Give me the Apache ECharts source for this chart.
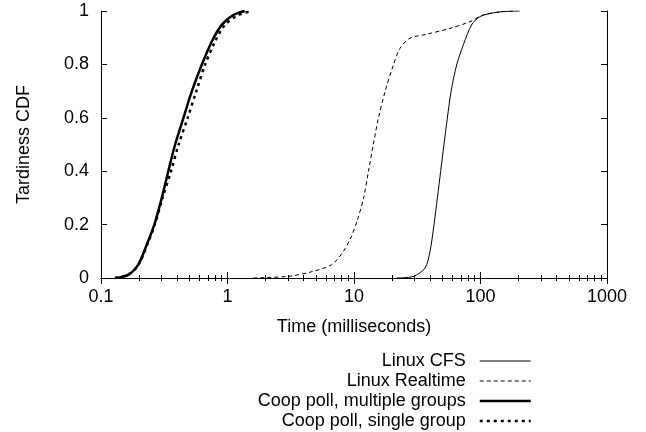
<!DOCTYPE html>
<html>
<head>
<meta charset="utf-8">
<script src="https://cdn.jsdelivr.net/npm/echarts@6/dist/echarts.min.js"></script>
<style>html,body{margin:0;padding:0;background:#fff}#c{width:646px;height:432px}</style>
</head>
<body>
<div id="c"></div>
<script>
// ---- data ----
const seriesNames = ['Linux CFS', 'Linux Realtime', 'Coop poll, multiple groups', 'Coop poll, single group'];
const xTickLabels = ['0.1', '1', '10', '100', '1000'];
const yTickLabels = ['0', '0.2', '0.4', '0.6', '0.8', '1'];

const cfsTime = [21.7, 29.4, 36.4, 39.9, 42.9, 45.6, 48.4, 51.4, 54.7, 58.5, 64.8, 73.1, 85.1, 99, 134, 193];
const cfsCdf  = [0, 0.006, 0.037, 0.1, 0.2, 0.299, 0.399, 0.499, 0.599, 0.698, 0.798, 0.873, 0.948, 0.979, 0.995, 1.0];

const rtTime = [1.6, 3.0, 4.5, 6.66, 8.25, 9.42, 10.6, 11.9, 13.0, 14.2, 15.6, 17.6, 20.5, 23.1, 27.7, 37.6, 57.4, 82.6, 105, 151, 205];
const rtCdf  = [0, 0.006, 0.022, 0.05, 0.1, 0.15, 0.215, 0.299, 0.399, 0.499, 0.599, 0.698, 0.798, 0.860, 0.898, 0.913, 0.935, 0.960, 0.985, 0.998, 1.0];

const multiTime = [0.129, 0.164, 0.197, 0.230, 0.264, 0.302, 0.340, 0.385, 0.448, 0.521, 0.625, 0.750, 0.900, 1.11, 1.37];
const multiCdf  = [0, 0.012, 0.05, 0.125, 0.2, 0.299, 0.399, 0.499, 0.599, 0.698, 0.798, 0.885, 0.948, 0.985, 1.0];

const singleTime = [0.129, 0.164, 0.198, 0.232, 0.266, 0.306, 0.357, 0.410, 0.484, 0.565, 0.664, 0.796, 0.955, 1.22, 1.55];
const singleCdf  = [0, 0.012, 0.05, 0.125, 0.2, 0.299, 0.399, 0.499, 0.599, 0.698, 0.798, 0.885, 0.948, 0.985, 1.0];

// ---- chart ----
const zip = (xs, ys) => xs.map((x, i) => [x, ys[i]]);
const FONT = '"Liberation Sans", Arial, Helvetica, sans-serif';
const FS = 18;
const chart = echarts.init(document.getElementById('c'), null, {renderer: 'canvas'});

const xBase = {
  type: 'log', logBase: 10, min: 0.1, max: 1000,
  axisLine: {show: true, lineStyle: {color: '#000', width: 1}},
  axisTick: {show: true, inside: true, length: 6, lineStyle: {color: '#000'}},
  minorTick: {show: true, splitNumber: 9, length: 3, lineStyle: {color: '#000'}},
  splitLine: {show: false}, minorSplitLine: {show: false}
};
const yBase = {
  type: 'value', min: 0, max: 1, interval: 0.2,
  axisLine: {show: true, lineStyle: {color: '#000', width: 1}},
  axisTick: {show: true, inside: true, length: 6, lineStyle: {color: '#000'}},
  splitLine: {show: false}
};

const option = {
  backgroundColor: '#fff',
  animation: false,
  textStyle: {fontFamily: FONT},
  grid: {left: 101, right: 39, top: 11, bottom: 154, containLabel: false},
  xAxis: [
    Object.assign({}, xBase, {
      position: 'bottom',
      name: 'Time (milliseconds)', nameLocation: 'middle', nameGap: 40,
      nameTextStyle: {fontSize: FS, color: '#000', fontFamily: FONT},
      axisLabel: {show: true, margin: 10, fontSize: FS, color: '#000', fontFamily: FONT,
        formatter: v => { const i = Math.round(Math.log10(v)) + 1; return xTickLabels[i] !== undefined ? xTickLabels[i] : ''; }}
    }),
    Object.assign({}, xBase, {position: 'top', axisLabel: {show: false}})
  ],
  yAxis: [
    Object.assign({}, yBase, {
      position: 'left',
      name: 'Tardiness CDF', nameLocation: 'middle', nameGap: 68, nameRotate: 90,
      nameTextStyle: {fontSize: FS, color: '#000', fontFamily: FONT},
      axisLabel: {show: true, margin: 12, fontSize: FS, color: '#000', fontFamily: FONT,
        formatter: v => yTickLabels[Math.round(v * 5)]}
    }),
    Object.assign({}, yBase, {position: 'right', axisLabel: {show: false}})
  ],
  legend: {
    show: true, orient: 'vertical', align: 'right',
    right: 114, top: 352, padding: 0,
    itemWidth: 51, itemHeight: 14, itemGap: 2,
    textStyle: {fontSize: FS, color: '#000', fontFamily: FONT, padding: [0, 9, 0, 0]},
    itemStyle: {color: 'rgba(0,0,0,0)', borderWidth: 0, opacity: 0},
    lineStyle: {width: 'inherit', type: 'inherit', color: '#000'},
    data: seriesNames,
    selectedMode: false
  },
  series: [
    {name: seriesNames[0], type: 'line', data: zip(cfsTime, cfsCdf), smooth: 0.3, symbol: 'none',
      lineStyle: {color: '#000', width: 1, type: 'solid'}, itemStyle: {color: '#000'}},
    {name: seriesNames[1], type: 'line', data: zip(rtTime, rtCdf), smooth: 0.3, symbol: 'none',
      lineStyle: {color: '#000', width: 1, type: [4, 3]}, itemStyle: {color: '#000'}},
    {name: seriesNames[2], type: 'line', data: zip(multiTime, multiCdf), smooth: 0.3, symbol: 'none',
      lineStyle: {color: '#000', width: 2.5, type: 'solid'}, itemStyle: {color: '#000'}},
    {name: seriesNames[3], type: 'line', data: zip(singleTime, singleCdf), smooth: 0.3, symbol: 'none',
      lineStyle: {color: '#000', width: 2.5, type: [3, 4]}, itemStyle: {color: '#000'}}
  ]
};
chart.setOption(option);
</script>
</body>
</html>
